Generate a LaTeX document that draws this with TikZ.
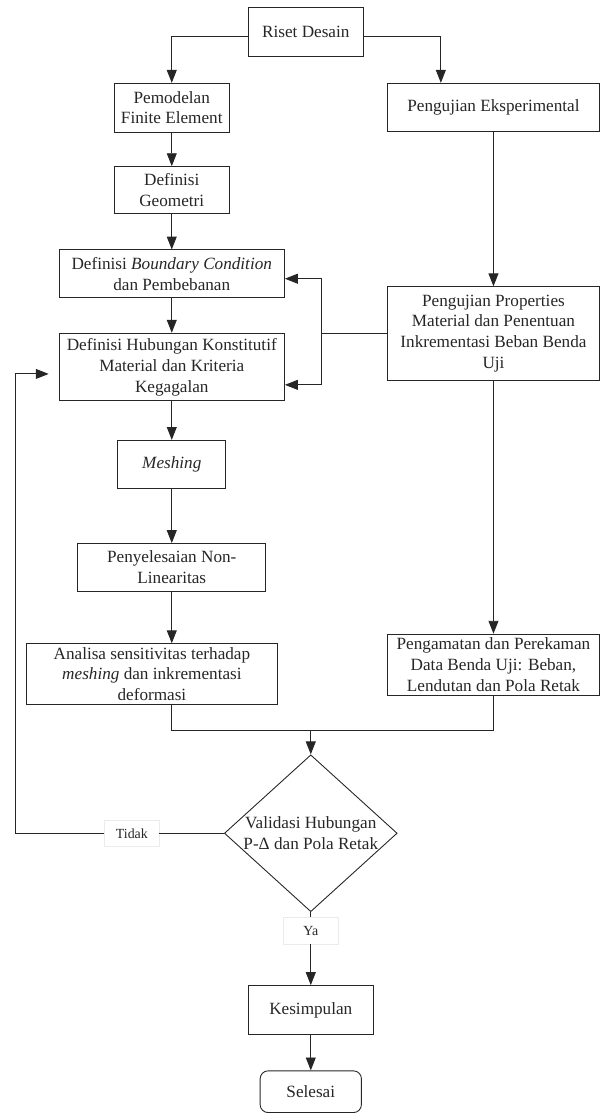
\documentclass[tikz,border=0pt]{standalone}
\usepackage{fontspec}
\setmainfont{Liberation Serif}
\usepackage{tikz}
\usetikzlibrary{arrows.meta,positioning,shapes.geometric}

\begin{document}
\begin{tikzpicture}[font=\fontsize{17.3}{21}\selectfont, color=black!85, line width=0.9pt,
  >={Triangle[length=13pt,width=10pt]},
  box/.style={draw, rectangle, align=center, inner sep=2pt}]
        \tikzstyle{decision} = [draw, diamond, inner sep=0pt, minimum width=174pt, minimum height=158pt]
        \tikzstyle{answer} = [draw=black!8, line width=0.5pt, fill=white, font=\fontsize{14}{16}\selectfont, minimum width=55pt, minimum height=27pt, inner sep=0pt]
        \node[box, minimum width=116pt, minimum height=49pt] (riset) {Riset Desain};
        \node[box, below=26pt of riset, xshift=-135pt, minimum width=116pt, minimum height=49pt] (pemodelan) {Pemodelan\\Finite Element};
        \node[box, below=26pt of riset, xshift=189pt, minimum width=214pt, minimum height=48pt] (eksperimental) {Pengujian Eksperimental};
        \node[box, below=34pt of pemodelan, minimum width=116pt, minimum height=47pt] (geometri) {Definisi\\Geometri};
        \node[box, below=36pt of geometri, minimum width=227pt, minimum height=48pt] (boundary) {Definisi \textit{Boundary Condition}\\dan Pembebanan};
        \node[box, below=35pt of boundary, minimum width=227pt, minimum height=68pt] (hubungan) {Definisi Hubungan Konstitutif\\Material dan Kriteria\\Kegagalan};
        \node[box, below=39pt of hubungan, minimum width=109pt, minimum height=48pt] (meshing) {\textit{Meshing}};
        \node[box, below=55pt of meshing, minimum width=189pt, minimum height=48pt] (penyelesaian) {Penyelesaian Non-\\Linearitas};
        \node[box, below=52pt of penyelesaian, xshift=-20pt, minimum width=253pt, minimum height=61pt] (analisa) {Analisa sensitivitas terhadap\\\textit{meshing} dan inkrementasi\\deformasi};
        \node[box, below=156pt of eksperimental, minimum width=214pt, minimum height=94pt] (properties) {Pengujian Properties\\Material dan Penentuan\\Inkrementasi Beban Benda\\Uji};
        \node[box, below=255pt of properties, minimum width=214pt, minimum height=62pt] (pengamatan) {Pengamatan dan Perekaman\\Data Benda Uji: Beban,\\Lendutan dan Pola Retak};
        \node[decision, below=50pt of analisa, xshift=160pt, label={[align=center]center:{Validasi Hubungan\\P-Δ dan Pola Retak}}] (validasi) {};
        \node[answer, left=65pt of validasi] (tidak) {Tidak};
        \node[answer, below=5pt of validasi] (ya) {Ya};
        \node[box, below=41pt of ya, minimum width=126pt, minimum height=49pt] (kesimpulan) {Kesimpulan};
        \node[box, rounded corners=8pt, below=36pt of kesimpulan, minimum width=102pt, minimum height=42pt] (selesai) {Selesai};

        \draw [->] ([yshift=-4pt]riset.west) -| (pemodelan.north);
        \draw [->] ([yshift=-4pt]riset.east) -| ([xshift=-53pt]eksperimental.north);
        \draw [->] (pemodelan) -- (geometri);
        \draw [->] (geometri) -- (boundary);
        \draw [->] (boundary) -- (hubungan);
        \draw [->] (hubungan) -- (meshing);
        \draw [->] (meshing) -- (penyelesaian);
        \draw [->] (penyelesaian.south) -- (penyelesaian.south |- analisa.north);
        \draw [->] (eksperimental) -- (properties);
        \draw [->] (properties) -- (pengamatan);

        % data material ke model
        \coordinate[left=66pt of properties.west] (split);
        \draw (properties.west) -- (split);
        \draw [->] (split) |- ([yshift=-5pt]boundary.east);
        \draw [->] (split) |- ([yshift=-18pt]hubungan.east);

        % gabung ke validasi
        \coordinate[above=24pt of validasi.north] (merge);
        \draw ([xshift=20pt]analisa.south) |- (merge);
        \draw (pengamatan.south) |- (merge);
        \draw [->] (merge) -- (validasi.north);

        % tidak valid: kembali
        \coordinate[left=210pt of validasi.west] (loop);
        \draw (validasi.west) -- (tidak.east);
        \draw [->, shorten >=10pt] (tidak.west) -- (loop) |- ([yshift=-7pt]hubungan.west);
        \draw (validasi.south) -- (ya.north);
        \draw [->] (ya) -- (kesimpulan);
        \draw [->] (kesimpulan) -- (selesai);

        \useasboundingbox ([shift={(-308pt,32.5pt)}]riset.center) rectangle ++(606pt,-1113pt);
\end{tikzpicture}
\end{document}
